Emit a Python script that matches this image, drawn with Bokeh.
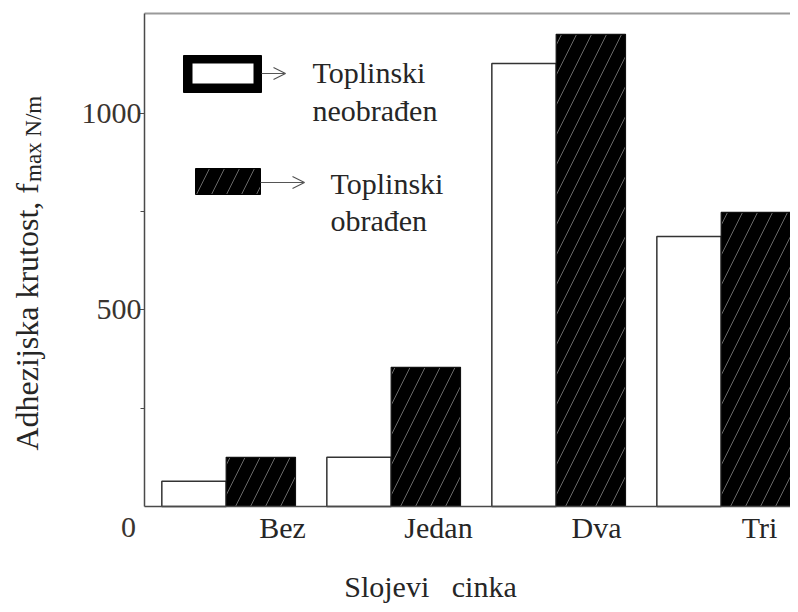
import numpy as np
from bokeh.plotting import figure
from bokeh.models import (FixedTicker, Label, Arrow, OpenHead, Range1d,
                          CustomJSTickFormatter)
from bokeh.embed import file_html
from bokeh.resources import INLINE

# ---------------- data ----------------
categories = ["Bez", "Jedan", "Dva", "Tri"]
neobradjen = [64, 125, 1127, 687]      # Toplinski neobrađen (white bars)
obradjen = [125, 354, 1201, 748]       # Toplinski obrađen (black hatched bars)
y_major_ticks = [500, 1000]
y_minor_ticks = [250, 750]
legend_line1 = "Toplinski"
legend_names = ["neobrađen", "obrađen"]
x_title = "Slojevi\u00a0\u00a0 cinka"
y_title_main = "Adhezijska krutost, f"
y_title_sub = "max N/m"
origin_label = "0"

# ---------------- layout ----------------
W, H = 790, 604
AX_L, AX_R, AX_T, AX_B = 144, 790, 13, 506     # plot area in canvas px
X0, X1 = 0.505, 4.42
Y0, Y1 = 0, 1254
KX = (X1 - X0) / (AX_R - AX_L)
KY = (Y1 - Y0) / (AX_B - AX_T)
SERIF = "Liberation Serif"
TXT = "#262626"
AXC = "#4a4a4a"
BASE_FIX = 10     # the renderer puts the alphabetic baseline ~10px lower


def px(x):
    return X0 + (x - AX_L) * KX


def py(y):
    return Y0 + (AX_B - y) * KY


p = figure(width=W, height=H, output_backend="svg", toolbar_location=None,
           x_range=Range1d(px(0), px(W)), y_range=Range1d(py(H), py(0)),
           min_border=0)
p.outline_line_color = None
p.grid.grid_line_color = None
p.background_fill_color = "white"
p.border_fill_color = "white"

idx = np.arange(1, len(categories) + 1)
w_white, w_black = 0.39, 0.42
p.quad(left=idx - w_white, right=idx, bottom=0, top=neobradjen,
       fill_color="white", line_color="#333333", line_width=1.5)
p.quad(left=idx, right=idx + w_black, bottom=0, top=obradjen,
       fill_color="black", line_color="#111111", line_width=1.2,
       hatch_pattern="/", hatch_color="#7a7a7a", hatch_scale=30,
       hatch_weight=1, hatch_alpha=0.85)

# x axis (fixed at y = 0 inside the canvas)
label_pos = [px(282), px(438), px(596), px(759)]
p.xaxis.fixed_location = Y0
p.xaxis.bounds = (X0, X1)
p.xaxis.ticker = FixedTicker(ticks=label_pos, minor_ticks=[X1 - 0.003])
p.xaxis.formatter = CustomJSTickFormatter(args=dict(names=categories),
                                          code="return names[index]")
p.xaxis.axis_line_color = AXC
p.xaxis.axis_line_width = 1.5
p.xaxis.major_tick_line_color = None
p.xaxis.minor_tick_line_color = AXC
p.xaxis.minor_tick_out = 7
p.xaxis.minor_tick_in = 0
p.xaxis.major_label_standoff = -3
p.xaxis.major_label_text_font = SERIF
p.xaxis.major_label_text_font_size = "30px"
p.xaxis.major_label_text_color = TXT

# y axis (fixed at x = X0)
p.yaxis.fixed_location = X0
p.yaxis.bounds = (Y0, Y1)
p.yaxis.ticker = FixedTicker(ticks=y_major_ticks, minor_ticks=y_minor_ticks)
p.yaxis.axis_line_color = AXC
p.yaxis.axis_line_width = 1.5
p.yaxis.major_tick_line_color = AXC
p.yaxis.major_tick_out = 6
p.yaxis.major_tick_in = 0
p.yaxis.minor_tick_line_color = AXC
p.yaxis.minor_tick_out = 4
p.yaxis.minor_tick_in = 0
p.yaxis.major_label_standoff = -3
p.yaxis.major_label_text_font = SERIF
p.yaxis.major_label_text_font_size = "30px"
p.yaxis.major_label_text_color = "#3a3430"

# top frame line
p.segment(x0=[X0], y0=[Y1], x1=[px(W)], y1=[Y1], line_color="#9a9a9a",
          line_width=2)


def hlabel(x, base, text, size="30px", align="left", color=TXT):
    p.add_layout(Label(x=px(x), y=py(base - BASE_FIX), text=text,
                       text_font=SERIF, text_font_size=size, text_color=color,
                       text_align=align, text_baseline="alphabetic"))


# origin label and x title
hlabel(128, 537, origin_label, align="center", color="#3a3430")
hlabel(430, 596, x_title, align="center")

# y title (rotated, with subscript)
main_size = 32
main_em = 8.36   # approx width of the main title in em (Times metrics)
y_start = 450
p.add_layout(Label(x=px(36 - BASE_FIX), y=py(y_start), text=y_title_main,
                   text_font=SERIF, text_font_size=f"{main_size}px",
                   text_color=TXT, angle=np.pi / 2, text_align="left",
                   text_baseline="alphabetic"))
p.add_layout(Label(x=px(43 - BASE_FIX), y=py(y_start - main_em * main_size - 1),
                   text=y_title_sub, text_font=SERIF, text_font_size="23px",
                   text_color=TXT, angle=np.pi / 2, text_align="left",
                   text_baseline="alphabetic"))

# legend: item 1 (white box with thick black frame)
p.quad(left=[px(183)], right=[px(261)], bottom=[py(92)], top=[py(55)],
       fill_color="black", line_color="black")
p.quad(left=[px(192)], right=[px(253)], bottom=[py(83)], top=[py(63)],
       fill_color="white", line_color=None)
p.add_layout(Arrow(end=OpenHead(size=12, line_color="#555555", line_width=1.2),
                   x_start=px(261), y_start=py(73), x_end=px(285), y_end=py(73),
                   line_color="#555555", line_width=1.2))
# legend: item 2 (black hatched box)
p.quad(left=[px(195)], right=[px(260)], bottom=[py(194)], top=[py(168)],
       fill_color="black", line_color="black",
       hatch_pattern="/", hatch_color="#7a7a7a", hatch_scale=30,
       hatch_weight=1, hatch_alpha=0.85)
p.add_layout(Arrow(end=OpenHead(size=12, line_color="#555555", line_width=1.2),
                   x_start=px(260), y_start=py(182), x_end=px(304), y_end=py(182),
                   line_color="#555555", line_width=1.2))

legend_x = [312, 330]
legend_base = [(82, 120), (193, 230)]
for lx, (b1, b2), name in zip(legend_x, legend_base, legend_names):
    hlabel(lx, b1, legend_line1)
    hlabel(lx, b2, name)

open("out.html", "w").write(file_html(p, INLINE))
